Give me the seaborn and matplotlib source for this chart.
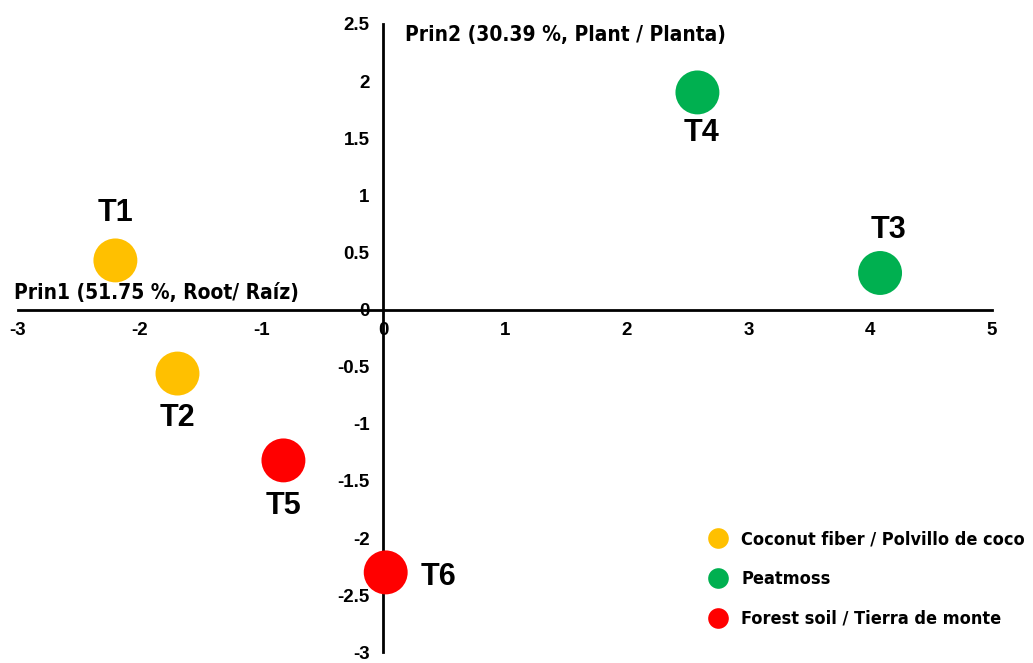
import numpy as np
import pandas as pd
import matplotlib
matplotlib.use('Agg')
import matplotlib.pyplot as plt
import seaborn as sns

# scores
treatments = ['T1', 'T2', 'T3', 'T4', 'T5', 'T6']
prin1 = [-2.20, -1.69, 4.08, 2.58, -0.82, 0.02]
prin2 = [0.43, -0.56, 0.32, 1.90, -1.32, -2.30]
substrate = ['Coconut fiber / Polvillo de coco', 'Coconut fiber / Polvillo de coco',
             'Peatmoss', 'Peatmoss',
             'Forest soil / Tierra de monte', 'Forest soil / Tierra de monte']
x_ticks = [-3, -2, -1, 0, 1, 2, 3, 4, 5]
y_ticks = [-3, -2.5, -2, -1.5, -1, -0.5, 0, 0.5, 1, 1.5, 2, 2.5]

df = pd.DataFrame({'t': treatments, 'prin1': prin1, 'prin2': prin2, 'sub': substrate})
palette = {'Coconut fiber / Polvillo de coco': '#FFC000',
           'Peatmoss': '#00B050',
           'Forest soil / Tierra de monte': '#FF0000'}

plt.rcParams['font.family'] = ['Liberation Sans', 'DejaVu Sans']
# condensed bold for titles/legend (closest to the narrow face of the original)
narrow = dict(family=['DejaVu Sans'], stretch='condensed', weight='bold')

fig = plt.figure(figsize=(10.33, 6.63), dpi=100)
ax = fig.add_axes([0.0174, 0.016, 0.943, 0.948])

sns.scatterplot(data=df, x='prin1', y='prin2', hue='sub', palette=palette,
                s=1000, edgecolor='none', ax=ax, zorder=3, clip_on=False)

# axes crossing at the origin (set before tick labels: moving spines resets ticks)
for s in ['top', 'right']:
    ax.spines[s].set_visible(False)
ax.spines['left'].set_position(('data', 0))
ax.spines['bottom'].set_position(('data', 0))
ax.spines['left'].set_linewidth(2)
ax.spines['bottom'].set_linewidth(2)
ax.set_xlabel('')
ax.set_ylabel('')

ax.set_xlim(-3, 5)
ax.set_ylim(-3, 2.5)
ax.set_xticks(x_ticks)
ax.set_yticks(y_ticks)
ax.set_xticklabels([f'{v:g}' for v in x_ticks], fontweight='bold', fontsize=13.5)
ax.set_yticklabels([f'{v:g}' for v in y_ticks], fontweight='bold', fontsize=13.5)
ax.tick_params(axis='x', length=0, pad=9)
ax.tick_params(axis='y', length=0, pad=10)

# point labels (offsets in points)
offsets = {'T1': (0, 34), 'T2': (0, -32), 'T3': (6, 31),
           'T4': (3, -29), 'T5': (0, -33), 'T6': (38, -3)}
for t, x, y in zip(treatments, prin1, prin2):
    ax.annotate(t, (x, y), xytext=offsets[t], textcoords='offset points',
                ha='center', va='center', fontsize=22, fontweight='bold')

ax.text(-3.03, 0.06, 'Prin1 (51.75 %, Root/ Raíz)', fontsize=15,
        ha='left', va='bottom', **narrow)
ax.text(0.18, 2.4, 'Prin2 (30.39 %, Plant / Planta)', fontsize=15,
        ha='left', va='center', **narrow)

leg = ax.legend(loc='lower left', bbox_to_anchor=(0.683, 0.013), frameon=False,
                markerscale=0.47, handletextpad=0.3, labelspacing=1.2,
                prop=dict(size=13, **narrow))

fig.savefig('out.png', dpi=100)
